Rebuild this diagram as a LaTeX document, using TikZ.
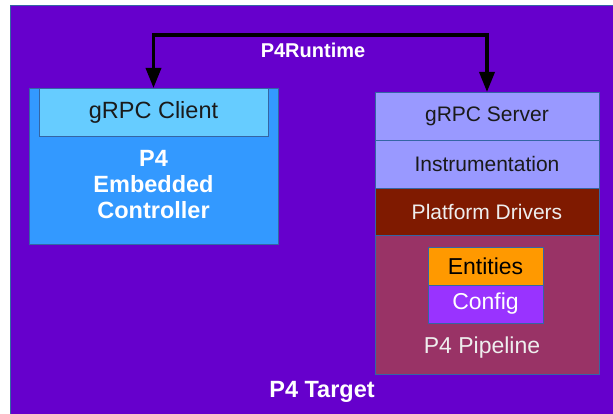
\documentclass[tikz,border=0pt]{standalone}
\usepackage{fontspec}
\setmainfont{Liberation Sans}
\usetikzlibrary{arrows.meta}
\definecolor{bgpurple}{HTML}{6600CC}
\definecolor{edgeblue}{HTML}{3465A4}
\definecolor{ctrlblue}{HTML}{3399FF}
\definecolor{clientblue}{HTML}{66CCFF}
\definecolor{serverlav}{HTML}{9999FF}
\definecolor{driverred}{HTML}{7F1A00}
\definecolor{pipeplum}{HTML}{993366}
\definecolor{entorange}{HTML}{FF9900}
\definecolor{cfgviolet}{HTML}{9933FF}
\definecolor{darktext}{HTML}{1A1A1A}
\definecolor{lighttext}{HTML}{EEEEEE}
\tikzset{
  box/.style={draw=edgeblue, line width=0.8pt, rectangle, inner sep=0pt, outer sep=0pt, anchor=center},
  lbl/.style={inner sep=0pt, font=\fontsize{23}{26}\selectfont, align=center},
  blbl/.style={lbl, font=\fontsize{23.5}{26}\selectfont\bfseries, text=white},
}
\begin{document}
\begin{tikzpicture}[x=1pt,y=-1pt]
\useasboundingbox (0,0) rectangle (613,414);
\fill[bgpurple] (10,5) rectangle (613,414);
\draw[edgeblue, line width=0.8pt] (10,414) -- (10,5) -- (613,5);
% left controller
\node[box, fill=ctrlblue, minimum width=249pt, minimum height=156pt] (ctrl) at (153.5,166) {};
\node[box, fill=clientblue, minimum width=229pt, minimum height=48pt, lbl, font=\fontsize{23.5}{26}\selectfont, text=darktext] (client) at (153.5,112) {gRPC Client};
\node[blbl] (ctrltext) at (153.5,185) {P4\\Embedded\\Controller};
% right stack
\node[box, fill=serverlav, minimum width=224pt, minimum height=48pt, lbl, font=\fontsize{21}{24}\selectfont, text=darktext] (server) at (487,116) {gRPC Server};
\node[box, fill=serverlav, minimum width=224pt, minimum height=48pt, lbl, font=\fontsize{21}{24}\selectfont, text=darktext] (instr) at (487,164) {Instrumentation};
\node[box, fill=driverred, minimum width=224pt, minimum height=47pt, lbl, font=\fontsize{21}{24}\selectfont, text=lighttext] (drivers) at (487,211.5) {Platform Drivers};
\node[box, fill=pipeplum, minimum width=224pt, minimum height=139pt] (pipe) at (487,304.5) {};
\node[box, fill=entorange, minimum width=115pt, minimum height=38pt, lbl, text=black] (ent) at (485.5,266) {Entities};
\node[box, fill=cfgviolet, minimum width=115pt, minimum height=38pt, lbl, text=white] (cfg) at (485.5,304) {Config};
\node[lbl, text=lighttext] (pipetext) at (482,348) {P4 Pipeline};
% P4Runtime connector
\coordinate (toprun) at (320,35);
\draw[line width=3.5pt, {Triangle[width=15pt,length=20pt]}-{Triangle[width=15pt,length=20pt]}] (client.north) |- (toprun) -| (server.north);
\node[lbl, font=\fontsize{20}{24}\selectfont\bfseries, text=white] (rtlabel) at (313,50) {P4Runtime};
\node[blbl] (target) at (322,392) {P4 Target};
\end{tikzpicture}
\end{document}
